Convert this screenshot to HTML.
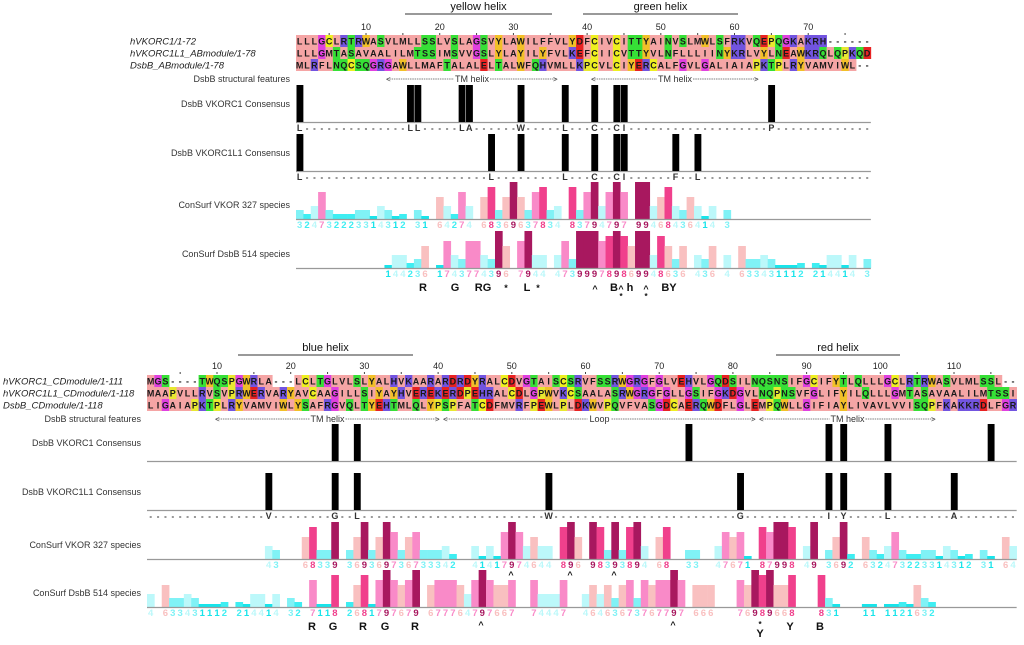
<!DOCTYPE html>
<html><head><meta charset="utf-8">
<style>
html,body{margin:0;padding:0;background:#fff;}
svg{display:block;font-family:"Liberation Sans",sans-serif;}
</style></head>
<body>
<svg id="fig" width="1024" height="645" viewBox="0 0 1024 645" xmlns="http://www.w3.org/2000/svg"></svg>
<script>
// ---------- DATA ----------
const topSeqNames = ["hVKORC1/1-72","hVKORC1L1_ABmodule/1-78","DsbB_ABmodule/1-78"];
const topSeqs = [
"LLLGCLRTRWASVLMLLSSLVSLAGSVYLAWILFFVLYDFCIVCITTYAINVSLMWLSFRKVQEPQGKAKRH",
"LLLGMTASAVAALILMTSSIMSVVGSLYLAYILYFVLKEFCIICVTTYVLNFLLLIINYKRLVYLNEAWKRQLQPKQD",
"MLRFLNQCSQGRGAWLLMAFTALALELTALWFQHVMLLKPCVLCIYERCALFGVLGALIAIAPKTPLRYVAMVIWL"];
const botSeqNames = ["hVKORC1_CDmodule/1-111","hVKORC1L1_CDmodule/1-118","DsbB_CDmodule/1-118"];
const botSeqs = [
"MGS----TWQSPGWRLA---LCLTGLVLSLYALHVKAARARDRDYRALCDVGTAISCSRVFSSRWGRGFGLVEHVLGQDSILNQSNSIFGCIFYTLQLLLGCLRTRWASVLMLSSL",
"MAAPVLLRVSVPRWERVARYAVCAAGILLSIYAYHVEREKERDPEHRALCDLGPWVKCSAALASRWGRGFGLLGSIFGKDGVLNQPNSVFGLIFYILQLLLGMTASAVAALILMTSSI",
"LIGAIAPKTPLRYVAMVIWLYSAFRGVQLTYEHTMLQLYPSPFATCDFMVRFPEWLPLDKWVPQVFVASGDCAERQWDFLGLEMPQWLLGIFIAYLIVAVLVVISQPFKAKKRDLFGR"];

// consensus columns & letters
const topC1Cols = [0,15,16,22,23,30,36,40,43,44,64];
const topC1Letters = ["L","L","L","L","A","W","L","C","C","I","P"];
const topL1Cols = [0,26,30,36,40,43,44,51,54];
const topL1Letters = ["L","L","","L","C","C","I","F","L"];
const botC1Cols = [25,28,73,92,94,100,114];
const botL1Cols = [16,25,28,54,80,92,94,100,109];
const botL1Letters = ["V","G","L","W","G","I","Y","L","A"];

// ConSurf grades (0 = no data)
const topVKOR = [3,2,4,7,3,2,2,2,3,3,1,4,3,1,2,0,3,1,0,6,4,2,7,4,0,6,8,3,6,9,6,3,7,8,3,4,0,8,3,7,9,4,7,9,7,0,9,9,4,6,8,4,3,6,4,1,4,0,3,0,0,0,0,0,0,0,0,0,0,0,0,0,0,0,0,0,0,0];
const topDsbB = [0,0,0,0,0,0,0,0,0,0,0,0,1,4,4,2,3,6,0,1,7,4,3,7,7,4,3,9,6,0,7,9,4,4,0,4,7,3,9,9,9,7,8,9,8,6,9,9,4,8,6,3,6,0,4,3,6,0,4,0,6,3,3,4,3,1,1,1,2,0,2,1,4,4,1,4,0,3];
const botVKOR = [0,0,0,0,0,0,0,0,0,0,0,0,0,0,0,0,4,3,0,0,0,6,8,3,3,9,0,3,6,9,3,6,9,7,3,6,7,3,3,3,4,2,0,0,4,1,4,1,7,9,7,4,6,4,4,0,8,9,6,0,9,8,3,9,3,8,9,4,0,6,8,0,0,3,3,0,0,4,7,6,7,1,0,8,7,9,9,8,0,4,9,0,3,6,9,2,0,6,3,2,4,7,3,2,2,3,3,1,4,3,1,2,0,3,1,0,6,4];
const botDsbB = [4,0,6,3,3,4,3,1,1,1,2,0,2,1,4,4,1,4,0,3,2,0,7,1,1,8,0,2,6,8,1,7,9,7,6,7,9,0,6,7,7,7,6,4,7,9,7,6,6,7,0,0,7,4,4,4,7,0,0,4,6,4,6,3,6,7,3,7,6,7,7,9,7,0,6,6,6,0,0,0,7,6,9,8,9,6,6,8,0,0,0,8,3,1,0,0,0,1,1,0,1,1,2,1,6,3,2,0,0,0,0,0,0,0,0,0,0,0];

const gradeColors = ["#ffffff","#18e4ea","#3eeef2","#80f2f6","#bcf8fa","#ffffff","#f9c0c0","#f98ac8","#f0408c","#a8185f"];
const gradeHeights = [0,3,5,9,13,18,22,27,32,37];

// ---------- DRAWING ----------
const svg = document.getElementById('fig');
const NS = "http://www.w3.org/2000/svg";
const CW = 7.37;
function mk(tag, attrs, parent){ const e=document.createElementNS(NS,tag); for(const k in attrs) e.setAttribute(k,attrs[k]); (parent||svg).appendChild(e); return e; }
function txt(x,y,s,attrs,parent){ const e=mk('text',Object.assign({x:x,y:y},attrs||{}),parent); e.textContent=s; return e; }
function resColor(c){
  if("AILMFV".includes(c)) return "#f5a5a5";
  if("WY".includes(c)) return "#f2c028";
  if(c==="C") return "#eef020";
  if(c==="P") return "#e8e830";
  if(c==="G") return "#e040e0";
  if("STNQ".includes(c)) return "#36e036";
  if("KRH".includes(c)) return "#7254e0";
  if("DE".includes(c)) return "#e82222";
  return null;
}

function panel(P){
  const g = mk('g',{});
  
  
  const X = c => P.x0 + c*CW;
  const W = P.n*CW;
  // helices
  P.helices.forEach(h=>{
    const hg = mk('g',{},g);
    
    
    txt((h.x1+h.x2)/2, P.hy, h.label, {'font-size':11,'text-anchor':'middle',fill:'#111'}, hg);
    mk('line',{x1:h.x1,x2:h.x2,y1:P.hy+4,y2:P.hy+4,stroke:'#333','stroke-width':1},hg);
  });
  // ruler
  const rg = mk('g',{},g);
  
  
  for(let i=5;i<=P.n;i+=5){
    const cx = X(i-1)+CW/2;
    if(i%10===0) txt(cx, P.ry, String(i), {'font-size':9,'text-anchor':'middle',fill:'#222'}, rg);
    mk('line',{x1:cx,x2:cx,y1:P.ry+3,y2:P.ry+5,stroke:'#444','stroke-width':1},rg);
  }
  // sequences
  P.seqs.forEach((s,ri)=>{
    const sg = mk('g',{},g);
    
    
    const y = P.sy + ri*12;
    txt(P.nameX, y+9.5, P.names[ri], {'font-size':9.5,'font-style':'italic',fill:'#222'}, sg);
    for(let c=0;c<P.n;c++){
      const ch = c<s.length ? s[c] : '-';
      const col = resColor(ch);
      if(col) mk('rect',{x:X(c),y:y,width:CW+0.3,height:12,fill:col},sg);
      txt(X(c)+CW/2, y+9.5, ch, {'font-size':9,'font-weight':'bold','text-anchor':'middle',fill:'#1a1a1a'}, sg);
    }
  });
  // labels
  const lab = (y,s,nm)=>{ const t=txt(P.labX,y,s,{'font-size':9,'text-anchor':'end',fill:'#333'},g);   };
  lab(P.stY,'DsbB structural features','structural-features-label');
  lab(P.c1Base-15,'DsbB VKORC1 Consensus','vkorc1-consensus-label');
  lab(P.l1Base-15,'DsbB VKORC1L1 Consensus','vkorc1l1-consensus-label');
  lab(P.vBase-11,'ConSurf VKOR 327 species','consurf-vkor-label');
  lab(P.dBase-11,'ConSurf DsbB 514 species','consurf-dsbb-label');
  // structural features
  P.struct.forEach(f=>{
    const fg = mk('g',{},g);
    
    
    const mid=(f.x1+f.x2)/2, y=P.stY-3;
    mk('line',{x1:f.x1,x2:mid-f.w,y1:y,y2:y,stroke:'#555','stroke-width':0.8,'stroke-dasharray':'1.5,0.8'},fg);
    mk('line',{x1:mid+f.w,x2:f.x2,y1:y,y2:y,stroke:'#555','stroke-width':0.8,'stroke-dasharray':'1.5,0.8'},fg);
    txt(f.x1-1,P.stY,'<',{'font-size':8,fill:'#444'},fg);
    txt(f.x2-4,P.stY,'>',{'font-size':8,fill:'#444'},fg);
    txt(mid,P.stY,f.label,{'font-size':9,'text-anchor':'middle',fill:'#333'},fg);
  });
  // consensus tracks
  function consTrack(cols, letters, base, nm){
    const tg = mk('g',{},g);
    
    
    mk('line',{x1:P.x0,x2:P.x0+W,y1:base+0.5,y2:base+0.5,stroke:'#999','stroke-width':1.2},tg);
    cols.forEach((c,i)=>{
      const b = mk('rect',{x:X(c)+0.5,y:base-37,width:CW-0.5,height:37,fill:'#000'},tg);
      
      
    });
    if(letters){
      for(let c=0;c<P.n;c++){
        const k = cols.indexOf(c);
        const ch = (k>=0 && letters[k]) ? letters[k] : '-';
        txt(X(c)+CW/2, base+9, ch, {'font-size':ch==='-'?8:9,'font-weight':'bold','text-anchor':'middle',fill:'#333'}, tg);
      }
    }
  }
  consTrack(P.c1Cols, P.c1Letters, P.c1Base, 'vkorc1-consensus-track');
  consTrack(P.l1Cols, P.l1Letters, P.l1Base, 'vkorc1l1-consensus-track');
  // consurf tracks
  function consurf(vals, base, nm){
    const tg = mk('g',{},g);
    
    
    vals.forEach((v,c)=>{
      if(!v) return;
      const h = gradeHeights[v];
      const b = mk('rect',{x:X(c),y:base-h,width:CW+0.3,height:h,fill:gradeColors[v]},tg);
      
      
      txt(X(c)+CW/2, base+9, String(v), {'font-size':9.5,'font-weight':'bold','text-anchor':'middle',fill:gradeColors[v]==='#ffffff'?'#eee':gradeColors[v]}, tg);
    });
    mk('line',{x1:P.x0,x2:P.x0+W,y1:base+0.5,y2:base+0.5,stroke:'#999','stroke-width':1.2},tg);
  }
  consurf(P.vVals, P.vBase, 'consurf-vkor-track');
  consurf(P.dVals, P.dBase, 'consurf-dsbb-track');
  // annotations
  const ag = mk('g',{},g);
  
  
  P.ann.forEach(a=>{ txt(a[0],a[1],a[2],{'font-size':a[3]||11,'font-weight':'bold','text-anchor':'middle',fill:'#111'},ag); });
}

panel({name:'ab-module-panel', x0:296, n:78, hy:10, ry:30, sy:35, nameX:130, labX:290, names:topSeqNames, seqs:topSeqs,
  helices:[{label:'yellow helix',x1:405,x2:552},{label:'green helix',x1:583,x2:738}],
  stY:82, struct:[{label:'TM helix',x1:387,x2:557,w:18},{label:'TM helix',x1:592,x2:758,w:18}],
  c1Cols:topC1Cols, c1Letters:topC1Letters, c1Base:122, l1Cols:topL1Cols, l1Letters:topL1Letters, l1Base:171,
  vBase:219, vVals:topVKOR, dBase:268, dVals:topDsbB,
  ann:[[423,291,'R'],[455,291,'G'],[483,291,'RG'],[506,291,'*',9],[527,291,'L'],[538,291,'*',9],[595,292,'^',9],[614,291,'B'],[621,292,'^',9],[630,291,'h'],[621,299,'*',8],[646,292,'^',9],[646,299,'*',8],[669,291,'BY']]});

panel({name:'cd-module-panel', x0:147, n:118, hy:351, ry:369, sy:375, nameX:3, labX:141, names:botSeqNames, seqs:botSeqs,
  helices:[{label:'blue helix',x1:238,x2:413},{label:'red helix',x1:776,x2:900}],
  stY:422, struct:[{label:'TM helix',x1:216,x2:439,w:18},{label:'Loop',x1:444,x2:755,w:12},{label:'TM helix',x1:760,x2:935,w:18}],
  c1Cols:botC1Cols, c1Letters:null, c1Base:461, l1Cols:botL1Cols, l1Letters:botL1Letters, l1Base:510,
  vBase:559, vVals:botVKOR, dBase:607, dVals:botDsbB,
  ann:[[511,578,'^',9],[570,578,'^',9],[614,578,'^',9],[312,630,'R'],[333,630,'G'],[363,630,'R'],[385,630,'G'],[415,630,'R'],[481,628,'^',9],[673,628,'^',9],[760,627,'*',8],[760,637,'Y'],[790,630,'Y'],[820,630,'B']]});
</script>
</body></html>
